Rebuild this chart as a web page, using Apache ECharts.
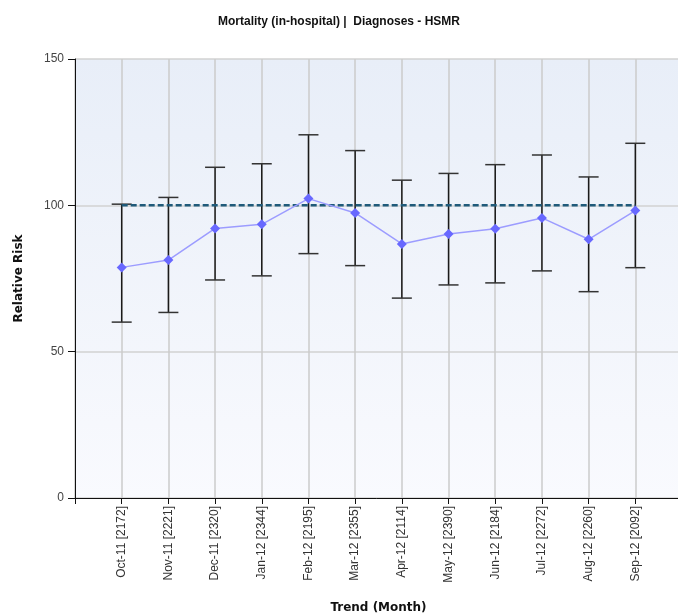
<!DOCTYPE html>
<html>
<head>
<meta charset="utf-8">
<script src="https://cdn.jsdelivr.net/npm/echarts@6/dist/echarts.min.js"></script>
<style>html,body{margin:0;padding:0;background:#fff}#c{width:678px;height:616px}</style>
</head>
<body>
<div id="c"></div>
<script>
var months = ['Oct-11 [2172]','Nov-11 [2221]','Dec-11 [2320]','Jan-12 [2344]','Feb-12 [2195]','Mar-12 [2355]','Apr-12 [2114]','May-12 [2390]','Jun-12 [2184]','Jul-12 [2272]','Aug-12 [2260]','Sep-12 [2092]'];
var relativeRisk = [78.8, 81.3, 92.1, 93.5, 102.3, 97.4, 86.8, 90.2, 92.0, 95.7, 88.4, 98.2];
var upperCI = [100.4, 102.7, 113.0, 114.2, 124.1, 118.7, 108.6, 110.9, 113.9, 117.2, 109.7, 121.2];
var lowerCI = [60.1, 63.4, 74.5, 75.9, 83.5, 79.4, 68.3, 72.8, 73.5, 77.6, 70.5, 78.7];
var benchmark = [100, 100, 100, 100, 100, 100, 100, 100, 100, 100, 100, 100];
var yTicks = [0, 50, 100, 150];

// padded category list: empty slot before and after the months
var cats = [''].concat(months).concat(['']);
function pad(arr){ return [null].concat(arr).concat([null]); }

var errData = months.map(function(m, i){ return [i + 1, lowerCI[i], upperCI[i]]; });

var chart = echarts.init(document.getElementById('c'), null, {renderer:'canvas'});
chart.setOption({
  animation: false,
  title: {
    text: 'Mortality (in-hospital) |  Diagnoses - HSMR',
    left: 'center', top: 11,
    textStyle: {fontFamily: 'Liberation Sans', fontWeight: 'bold', fontSize: 12, color: '#111'}
  },
  grid: {
    left: 75, right: -4, top: 59, bottom: 118,
    containLabel: false, outerBoundsMode: 'none',
    show: true, borderWidth: 0,
    backgroundColor: new echarts.graphic.LinearGradient(0, 0, 0, 1, [
      {offset: 0, color: '#e8eef8'}, {offset: 1, color: '#f9fafe'}
    ])
  },
  xAxis: {
    type: 'category', data: cats, boundaryGap: false,
    name: 'Trend (Month)', nameLocation: 'middle', nameGap: 104,
    nameTextStyle: {fontFamily: 'DejaVu Sans', fontWeight: 'bold', fontSize: 12, color: '#111'},
    axisLine: {lineStyle: {color: '#111', width: 1}},
    axisTick: {show: true, length: 6, alignWithLabel: true, lineStyle: {color: '#111'}},
    axisLabel: {rotate: 90, interval: 0, fontFamily: 'Liberation Sans', fontSize: 12, color: '#333', margin: 8},
    splitLine: {show: true, lineStyle: {color: '#cbcbcb', width: 1.5}}
  },
  yAxis: {
    type: 'value', min: 0, max: 150, interval: 50,
    name: 'Relative Risk', nameLocation: 'middle', nameGap: 50,
    nameTextStyle: {fontFamily: 'DejaVu Sans', fontWeight: 'bold', fontSize: 12, color: '#111'},
    axisLine: {show: true, lineStyle: {color: '#111', width: 1}},
    axisTick: {show: true, length: 7, lineStyle: {color: '#111'}},
    axisLabel: {fontFamily: 'Liberation Sans', fontSize: 12, color: '#444', margin: 11},
    splitLine: {show: true, lineStyle: {color: '#d2d2d2', width: 1.5}}
  },
  series: [
    {
      type: 'custom',
      data: errData,
      z: 3,
      renderItem: function(params, api){
        var x = api.value(0);
        var lo = api.coord([x, api.value(1)]);
        var hi = api.coord([x, api.value(2)]);
        var hw = 10;
        var st = {stroke: '#1a1a1a', lineWidth: 1.5};
        return {
          type: 'group',
          children: [
            {type: 'line', shape: {x1: lo[0], y1: lo[1], x2: hi[0], y2: hi[1]}, style: st},
            {type: 'line', shape: {x1: hi[0]-hw, y1: hi[1], x2: hi[0]+hw, y2: hi[1]}, style: {stroke: '#333', lineWidth: 1.5}},
            {type: 'line', shape: {x1: lo[0]-hw, y1: lo[1], x2: lo[0]+hw, y2: lo[1]}, style: {stroke: '#333', lineWidth: 1.5}}
          ]
        };
      }
    },
    {
      type: 'line',
      data: pad(benchmark),
      z: 4,
      symbol: 'none',
      lineStyle: {color: '#1f5a7a', width: 2.5, type: [6, 3]}
    },
    {
      type: 'line',
      data: pad(relativeRisk),
      z: 5,
      symbol: 'diamond', symbolSize: 10,
      itemStyle: {color: '#6868ff', borderWidth: 0},
      lineStyle: {color: '#9c9cff', width: 1.5}
    }
  ]
});
</script>
</body>
</html>
